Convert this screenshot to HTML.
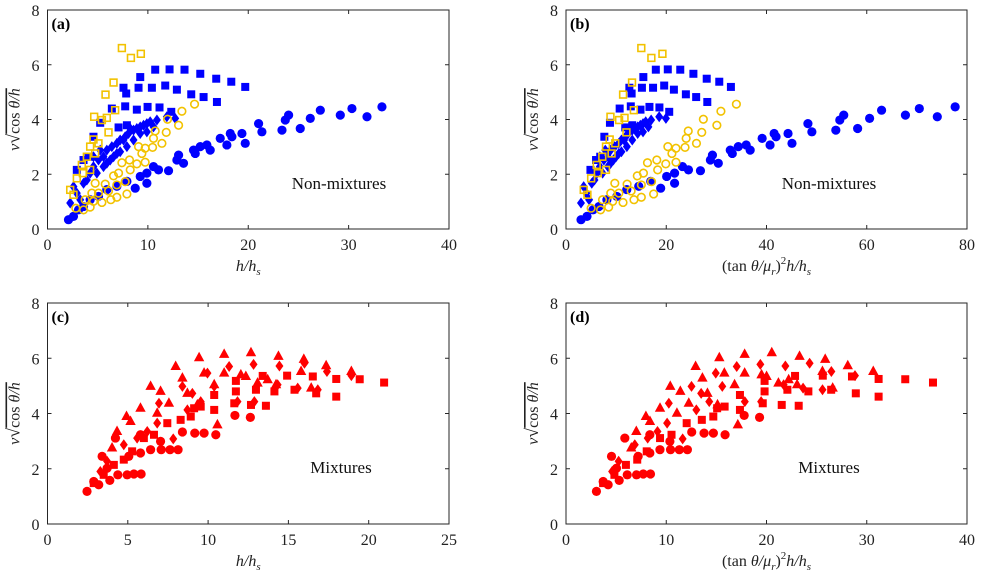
<!DOCTYPE html>
<html><head><meta charset="utf-8">
<style>
html,body{margin:0;padding:0;background:#fff;}
svg{display:block;font-family:"Liberation Serif","DejaVu Serif",serif;}
.tk{font-size:16px;fill:#222;}
.tt{font-size:16px;fill:#222;font-style:italic;}
.pl{font-size:16px;font-weight:bold;fill:#000;}
.nt{font-size:17px;fill:#111;}
</style></head>
<body>
<svg id="fig" width="981" height="575" viewBox="0 0 981 575"></svg>
<script>
// ---------- Panel (a)/(b) data: non-mixtures ----------
const blueCircX=[2.09,2.59,3.09,3.59,4.25,5.08,5.91,6.91,7.91,8.74,9.24,9.90,9.90,10.56,11.06,12.06,12.89,13.06,13.55,14.55,14.72,15.22,15.88,16.21,17.21,17.87,18.21,18.37,19.37,19.70,21.03,21.36,23.36,23.69,24.02,25.18,26.18,27.18,29.17,30.33,31.83,33.32];
const blueCircY=[0.34,0.46,0.70,0.82,1.07,1.19,1.44,1.56,1.74,1.49,1.92,1.67,2.04,2.28,2.16,2.13,2.52,2.70,2.40,2.88,2.76,3.01,3.07,2.88,3.31,3.07,3.49,3.37,3.49,3.13,3.85,3.55,3.61,3.98,4.16,3.67,4.04,4.34,4.16,4.40,4.10,4.46];
const blueSqX=[10.73,12.16,13.65,15.22,16.81,18.31,19.70,9.24,7.57,7.84,9.07,10.40,11.73,12.89,14.32,15.55,16.88,6.41,7.74,8.90,9.97,11.16,12.33,7.08,7.91,4.58,4.09,5.25,3.59,2.92];
const blueSqY=[5.82,5.83,5.82,5.67,5.49,5.38,5.19,5.55,5.16,4.95,5.16,5.16,5.24,5.09,4.92,4.82,4.64,4.40,4.48,4.36,4.46,4.44,4.28,3.71,3.79,3.37,2.64,3.88,2.52,2.16];
const blueDiaX=[2.26,2.92,3.59,4.25,4.58,5.08,5.58,5.91,6.41,6.91,7.24,7.74,8.07,8.57,8.90,9.24,9.57,9.90,10.23,10.90,11.89,12.72,5.91,6.58,7.24,7.91,8.57,9.24,9.90,10.56,4.92,5.58,6.25,6.91,7.57,8.24,3.92,4.58,5.25,3.26,2.59];
const blueDiaY=[0.95,1.31,1.67,2.04,2.28,2.52,2.64,2.88,3.01,3.13,3.25,3.37,3.49,3.61,3.67,3.73,3.79,3.85,3.92,3.98,4.10,4.04,2.40,2.64,2.82,3.01,3.25,3.49,3.55,3.73,2.04,2.28,2.52,2.76,3.25,3.67,1.79,2.64,2.88,1.07,1.55];
const yelSqX=[7.41,8.31,9.30,6.58,5.78,4.65,5.42,5.91,6.74,6.08,4.58,5.08,4.25,4.75,3.92,3.42,4.25,3.52,2.92,2.26,2.59];
const yelSqY=[6.61,6.25,6.40,5.35,4.91,4.10,3.98,4.06,4.34,3.53,3.27,3.13,3.01,2.76,2.64,2.34,2.16,2.04,1.85,1.43,1.25];
const yelCircX=[14.65,13.39,11.96,13.06,10.73,11.83,10.56,11.40,9.07,9.73,10.47,9.40,8.17,7.41,8.90,9.73,8.24,7.08,6.58,7.74,5.75,4.75,6.91,6.08,5.08,4.42,7.91,6.91,6.31,5.42,4.58,3.75,4.25,3.59,2.82];
const yelCircY=[4.56,4.30,4.01,3.79,3.58,3.53,3.31,3.13,3.01,2.95,2.98,2.76,2.52,2.42,2.38,2.44,2.16,2.04,1.94,1.73,1.64,1.67,1.61,1.39,1.31,1.31,1.28,1.16,1.07,0.97,1.01,1.07,0.80,0.70,0.76];
// (tan θ/μr)^2 conversion per series for panel (b): [scale, offset]
const nonMixFactor=[[2.39,-2],[1.67,0],[1.62,-0.67],[2.23,-1.5],[2.45,-1.9]];

// ---------- Panel (c)/(d) data: mixtures ----------
const redCircX=[2.46,3.19,3.88,4.38,4.96,5.38,5.83,3.40,5.06,5.79,6.42,7.08,7.63,8.13,8.40,9.17,9.75,10.48,11.67,12.63,4.23,5.79,7.04,2.88,3.71];
const redCircY=[1.18,1.42,1.58,1.78,1.78,1.81,1.81,2.45,2.45,2.57,2.69,2.69,2.69,2.69,3.33,3.29,3.29,3.23,3.93,3.86,3.11,3.23,2.99,1.54,2.02];
const redTriX=[9.44,11.00,12.67,14.38,15.96,17.35,18.92,7.98,8.40,9.75,11.00,12.35,13.71,6.42,7.04,5.79,4.92,4.33,4.02,7.56,8.71,10.38,12.04,13.08,16.42,15.79,14.23,5.17,6.83,9.33,10.58];
const redTriY=[6.02,6.14,6.20,6.07,5.96,5.73,5.52,5.70,5.28,5.46,5.46,5.34,5.22,4.98,4.80,4.19,3.89,3.35,2.75,4.37,4.73,5.04,5.40,5.10,4.92,5.52,5.04,3.71,4.01,4.31,3.59];
const redDiaX=[11.31,12.83,14.44,16.00,17.40,18.92,9.96,8.40,9.02,6.94,10.38,14.33,15.58,16.83,7.83,6.83,6.21,8.71,9.54,5.58,4.75,3.71,3.29,11.83,12.88];
const redDiaY=[5.70,5.78,5.72,5.82,5.52,5.37,5.46,4.98,4.73,4.37,4.98,5.04,4.92,4.86,3.08,3.65,3.35,4.13,4.43,3.11,2.87,2.27,1.90,4.43,4.43];
const redSqX=[20.96,19.44,17.98,17.98,16.52,16.73,14.92,15.38,14.13,13.40,12.98,11.73,11.73,13.60,12.67,11.63,10.38,9.54,8.92,8.29,7.46,6.63,6.00,5.27,4.75,4.13,3.50,2.88,10.38,9.13];
const redSqY=[5.12,5.24,5.25,4.61,5.34,4.73,5.37,4.86,4.80,5.36,4.86,5.18,4.80,4.28,4.31,4.37,4.67,4.25,3.89,3.77,3.65,3.23,3.11,2.63,2.33,2.14,1.78,1.48,4.13,4.19];
const mixFactor=[[1.6,-0.9],[1.62,0],[1.55,-0.5],[1.82,-1.54]];

const yTicks=[0,2,4,6,8];
const xTicksA=[0,10,20,30,40];
const xTicksB=[0,20,40,60,80];
const xTicksC=[0,5,10,15,20,25];
const xTicksD=[0,10,20,30,40];

const NS="http://www.w3.org/2000/svg";
const svg=document.getElementById('fig');
function mk(tag,attrs,parent){const e=document.createElementNS(NS,tag);for(const k in attrs)e.setAttribute(k,attrs[k]);(parent||svg).appendChild(e);return e;}

function panel(name,L,T,R,B,xt,xmax,label,note,xtitleHTML){
  const g=mk('g',{});
  
  
  const sx=v=>L+(v/xmax)*(R-L);
  const sy=v=>B-(v/8)*(B-T);
  const frame=mk('rect',{x:L,y:T,width:R-L,height:B-T,fill:'none',stroke:'#262626','stroke-width':1},g);
  
  
  yTicks.forEach(v=>{
    const y=sy(v);
    mk('line',{x1:L,x2:L+4,y1:y,y2:y,stroke:'#262626'},g);
    mk('line',{x1:R,x2:R-4,y1:y,y2:y,stroke:'#262626'},g);
    const t=mk('text',{x:L-8,y:y+6,'text-anchor':'end',class:'tk'},g);
    t.textContent=v;
    
    
  });
  xt.forEach(v=>{
    const x=sx(v);
    mk('line',{x1:x,x2:x,y1:B,y2:B-4,stroke:'#262626'},g);
    mk('line',{x1:x,x2:x,y1:T,y2:T+4,stroke:'#262626'},g);
    const t=mk('text',{x:x,y:B+21,'text-anchor':'middle',class:'tk'},g);
    t.textContent=v;
    
    
  });
  const pl=mk('text',{x:L+4,y:T+19,class:'pl'},g);
  pl.textContent=label;
  
  
  const nt=mk('text',{x:note[0],y:note[1],'text-anchor':'middle',class:'nt'},g);
  nt.textContent=note[2];
  
  
  const yt=mk('text',{transform:`translate(${L-28},${(T+B)/2}) rotate(-90)`,'text-anchor':'middle',class:'tt'},g);
  yt.innerHTML='v<tspan font-style="normal" font-size="18">√</tspan><tspan style="text-decoration:overline"><tspan font-style="normal">cos</tspan> θ/h</tspan>';
  
  
  const xtl=mk('text',{x:(L+R)/2,y:B+42,'text-anchor':'middle',class:'tt'},g);
  xtl.innerHTML=xtitleHTML;
  
  
  return {g,sx,sy};
}

function scatter(p,xs,ys,f,shape,color,filled,name){
  const g=mk('g',{},p.g);
  
  
  xs.forEach((xv,i)=>{
    const x=p.sx(xv*f[0]+f[1]), y=p.sy(ys[i]);
    let e;
    const fill=filled?color:'none';
    const st=filled?'none':color;
    if(shape==='c') e=mk('circle',{cx:x,cy:y,r:filled?4.6:3.8,fill:fill,stroke:st,'stroke-width':1.6},g);
    else if(shape==='s'){const h=filled?4:3.4;e=mk('rect',{x:x-h,y:y-h,width:2*h,height:2*h,fill:fill,stroke:st,'stroke-width':1.6},g);}
    else if(shape==='d') e=mk('polygon',{points:`${x},${y-5.5} ${x+4},${y} ${x},${y+5.5} ${x-4},${y}`,fill:fill},g);
    else e=mk('polygon',{points:`${x},${y-6} ${x+5.2},${y+3.5} ${x-5.2},${y+3.5}`,fill:fill},g);
    
    
  });
}

const B='#0000ff', Y='#f2c200', Rd='#ff0000';
const xh='h/h<tspan font-size="11" dy="4">s</tspan>';
const xb='<tspan font-style="normal">(tan</tspan> θ/μ<tspan font-size="11" dy="4">r</tspan><tspan dy="-4" font-style="normal">)</tspan><tspan font-size="11" dy="-7" font-style="normal">2</tspan><tspan dy="7">h/h</tspan><tspan font-size="11" dy="4">s</tspan>';

const pa=panel('panel-a',47.5,10,449,229,xTicksA,40,'(a)',[339,189,'Non-mixtures'],xh);
const pb=panel('panel-b',566,10,967,229,xTicksB,80,'(b)',[829,189,'Non-mixtures'],xb);
const pc=panel('panel-c',47.5,303,449,524,xTicksC,25,'(c)',[341,473,'Mixtures'],xh);
const pd=panel('panel-d',566,303,967,524,xTicksD,40,'(d)',[829,473,'Mixtures'],xb);

const id5=[[1,0],[1,0],[1,0],[1,0],[1,0]];
[[pa,id5],[pb,nonMixFactor]].forEach(([p,f])=>{
  scatter(p,blueCircX,blueCircY,f[0],'c',B,true,'blue-circles');
  scatter(p,blueSqX,blueSqY,f[1],'s',B,true,'blue-squares');
  scatter(p,blueDiaX,blueDiaY,f[2],'d',B,true,'blue-diamonds');
  scatter(p,yelSqX,yelSqY,f[3],'s',Y,false,'yellow-open-squares');
  scatter(p,yelCircX,yelCircY,f[4],'c',Y,false,'yellow-open-circles');
});
[[pc,id5],[pd,mixFactor]].forEach(([p,f])=>{
  scatter(p,redCircX,redCircY,f[0],'c',Rd,true,'red-circles');
  scatter(p,redTriX,redTriY,f[1],'t',Rd,true,'red-triangles');
  scatter(p,redDiaX,redDiaY,f[2],'d',Rd,true,'red-diamonds');
  scatter(p,redSqX,redSqY,f[3],'s',Rd,true,'red-squares');
});
</script>
</body></html>
